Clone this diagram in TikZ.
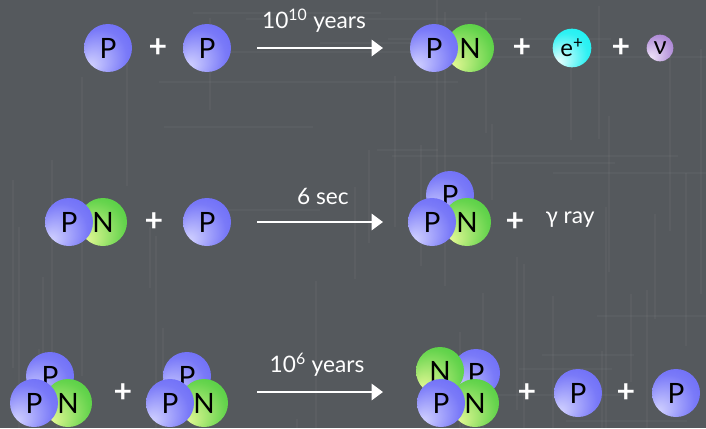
\documentclass[tikz,border=0pt]{standalone}
\usepackage{fontspec}
\setmainfont{Lato}
\usetikzlibrary{arrows.meta}

\definecolor{board}{HTML}{55595D}
\definecolor{pDark}{HTML}{5C5CF6}
\definecolor{pLight}{HTML}{D4D4FF}
\definecolor{nDark}{HTML}{2EC42E}
\definecolor{nLight}{HTML}{EAFA98}
\definecolor{eDark}{HTML}{00EEF0}
\definecolor{eLight}{HTML}{F2FFFF}
\definecolor{vDark}{HTML}{9262C8}
\definecolor{vLight}{HTML}{F2E8FA}

\pgfdeclareradialshading{pball}{\pgfpoint{-20bp}{-20bp}}{color(0bp)=(pLight); color(28bp)=(pDark!75!pLight); color(50bp)=(pDark)}
\pgfdeclareradialshading{nball}{\pgfpoint{-20bp}{-20bp}}{color(0bp)=(nLight); color(30bp)=(nDark!70!nLight); color(50bp)=(nDark)}
\pgfdeclareradialshading{eball}{\pgfpoint{-20bp}{-20bp}}{color(0bp)=(eLight); color(28bp)=(eDark!80!eLight); color(50bp)=(eDark)}
\pgfdeclareradialshading{vball}{\pgfpoint{-20bp}{-20bp}}{color(0bp)=(vLight); color(30bp)=(vDark!65!vLight); color(50bp)=(vDark)}

\tikzset{
  ball/.style={circle, inner sep=0pt, minimum size=36pt, text=black},
  proton/.style={ball, shading=pball, font=\fontsize{21}{21}\selectfont},
  neutron/.style={ball, shading=nball, font=\fontsize{21}{21}\selectfont},
  positron/.style={ball, minimum size=29pt, shading=eball, font=\fontsize{18}{18}\selectfont},
  neutrino/.style={ball, minimum size=20pt, shading=vball, font=\fontsize{19}{19}\selectfont},
  plus/.style={text=white, font=\bfseries\fontsize{24}{24}\selectfont},
  label/.style={text=white, font=\fontsize{17}{17}\selectfont},
  reaction/.style={draw=white, line width=2pt, -{Triangle[length=8.5pt,width=12pt]}}
}

\begin{document}
\begin{tikzpicture}[x=0.75pt, y=-0.75pt]
\fill[board] (0,0) rectangle (706,428);
\useasboundingbox (0,0) rectangle (706,428);
% faint chalkboard streaks
\pgfmathsetseed{17}
\foreach \i in {1, 2, ..., 40}
{
  \pgfmathsetmacro{\px}{int(random(0, 706))}
  \pgfmathsetmacro{\py}{int(random(0, 428))}
  \pgfmathsetmacro{\len}{int(random(60, 300))}
  \draw[white, opacity=0.035, line width=1.5pt] (\px,\py) -- ++(0,\len);
  \draw[white, opacity=0.03, line width=1.5pt] (\py,\px) ++(\px,0) -- ++(\len,0);
}

% p + p
\node[proton] (p1a) at (108,48) {P};
\node[plus] (s1a) at (158,48) {+};
\node[proton] (p1b) at (207,48) {P};
\coordinate (r1a) at (257,48);
\coordinate (r1b) at (383,48);
\draw[reaction] (r1a) -- (r1b);
\node[label] (t1) at (314,21) {10\textsuperscript{10} years};
\node[neutron] (n1c) at (470,48) {N};
\node[proton] (p1c) at (434,48) {P};
\node[plus] (s1b) at (522,48) {+};
\node[positron] (e1) at (572,48) {e\textsuperscript{+}};
\node[plus] (s1c) at (621,48) {+};
\node[neutrino] (v1) at (660,48) {ν};

% d + p
\node[neutron] (n2a) at (103,222) {N};
\node[proton] (p2a) at (69,222) {P};
\node[plus] (s2a) at (154,222) {+};
\node[proton] (p2b) at (207,222) {P};
\coordinate (r2a) at (257,222);
\coordinate (r2b) at (383,222);
\draw[reaction] (r2a) -- (r2b);
\node[label] (t2) at (323,196) {6 sec};
\node[proton] (p2c) at (450,195) {P};
\node[neutron] (n2c) at (467,222) {N};
\node[proton] (p2d) at (432,222) {P};
\node[plus] (s2b) at (515,222) {+};
\node[label] (g2) at (570,220) {γ ray};

% He3 + He3
\node[proton] (p3a) at (50,376) {P};
\node[neutron] (n3a) at (68,403) {N};
\node[proton] (p3b) at (34,403) {P};
\node[plus] (s3a) at (123,393) {+};
\node[proton] (p3c) at (187,376) {P};
\node[neutron] (n3c) at (204,403) {N};
\node[proton] (p3d) at (170,403) {P};
\coordinate (r3a) at (257,392);
\coordinate (r3b) at (383,392);
\draw[reaction] (r3a) -- (r3b);
\node[label] (t3) at (317,365) {10\textsuperscript{6} years};
\node[proton] (p3e) at (476,373) {P};
\node[neutron] (n3e) at (440,371) {N};
\node[neutron] (n3f) at (475,403) {N};
\node[proton] (p3f) at (441,403) {P};
\node[plus] (s3b) at (527,393) {+};
\node[proton] (p3g) at (578,393) {P};
\node[plus] (s3c) at (626,393) {+};
\node[proton] (p3h) at (676,393) {P};
\end{tikzpicture}
\end{document}
